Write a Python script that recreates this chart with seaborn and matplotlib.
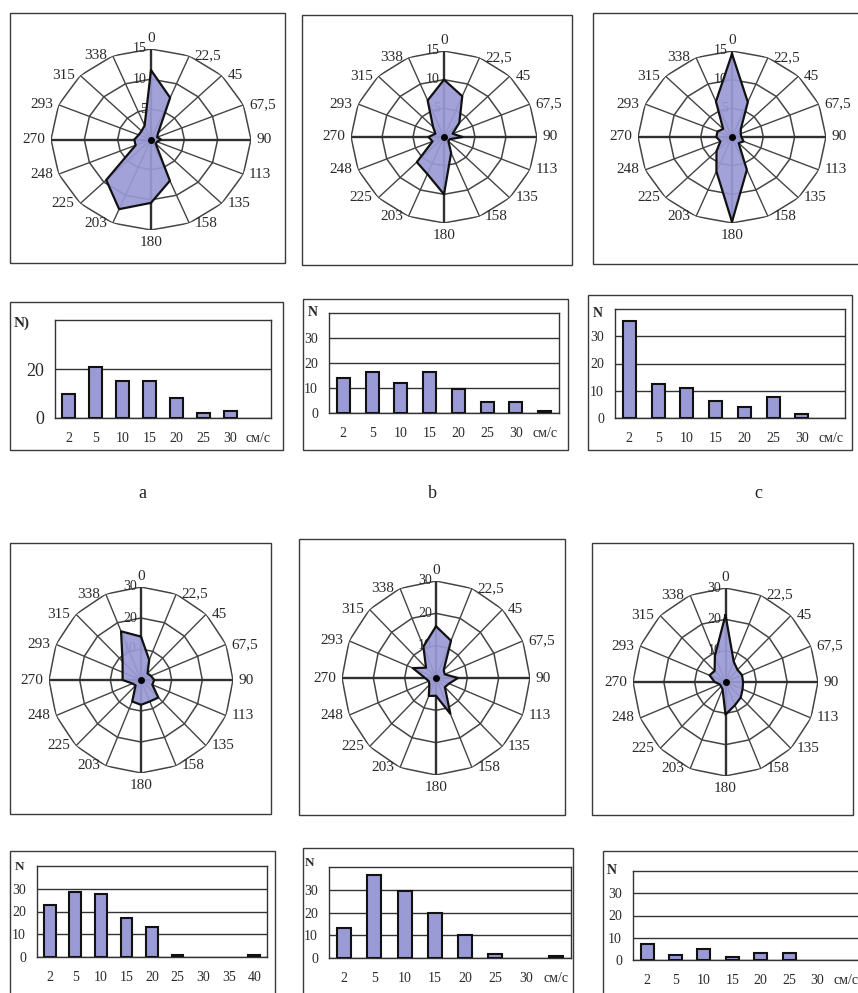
import numpy as np
import matplotlib
matplotlib.use("Agg")
import matplotlib.pyplot as plt
from matplotlib.patches import Rectangle
import seaborn as sns

sns.set_style("white")
plt.rcParams["font.family"] = ["Liberation Serif", "DejaVu Serif"]

# ---------------------------------------------------------------- data
direction_labels = ["0", "22,5", "45", "67,5", "90", "113", "135", "158",
                    "180", "203", "225", "248", "270", "293", "315", "338"]

# current direction roses (frequency, %)
rose_a = [11.5, 7.5, 1.5, 1.0, 1.5, 1.0, 1.0, 7.4, 10.5, 12.5, 9.5, 2.5, 2.5, 2.0, 2.0, 2.5]
rose_b = [10.0, 7.7, 3.5, 1.5, 3.0, 1.0, 1.0, 3.0, 10.0, 7.0, 6.2, 2.0, 2.5, 1.5, 2.5, 6.9]
rose_c = [14.5, 6.6, 2.0, 1.5, 1.5, 2.0, 1.5, 6.2, 14.8, 6.5, 3.5, 2.0, 2.5, 2.5, 2.0, 6.7]
rose_d = [14.0, 7.0, 3.0, 3.5, 4.3, 4.0, 8.0, 7.5, 8.0, 7.5, 2.5, 3.0, 6.0, 6.5, 8.5, 17.0]
rose_e = [16.0, 12.5, 3.5, 3.0, 7.0, 4.5, 4.0, 12.0, 5.5, 6.0, 3.0, 2.5, 3.5, 8.0, 4.5, 10.5]
rose_f = [21.4, 7.0, 5.5, 5.8, 5.7, 6.0, 7.0, 8.0, 10.4, 2.5, 2.0, 2.0, 3.5, 5.6, 5.0, 9.0]

# current speed histograms
speed_labels = ["2", "5", "10", "15", "20", "25", "30", "см/с"]
speed_labels_d = ["2", "5", "10", "15", "20", "25", "30", "35", "40"]
counts_a = [10, 21, 15, 15, 8, 2, 3, 0]
counts_b = [14, 16.5, 12, 16.5, 9.5, 4.5, 4.5, 0.7]
counts_c = [35.7, 12.4, 11.1, 6.1, 3.9, 7.6, 1.3, 0]
counts_d = [23, 28.5, 27.5, 17, 13, 0.7, 0, 0, 0.7]
counts_e = [13, 36.5, 29.5, 20, 10, 1.6, 0, 0.7]
counts_f = [7.3, 2.2, 5.1, 1.5, 3.2, 3.2, 0, 0]

panel_letters = ["a", "b", "c"]

# ---------------------------------------------------------------- figure
W, H = 858, 993
fig = plt.figure(figsize=(W / 100, H / 100), dpi=100)
fig.patch.set_facecolor("white")

FILL = "#9a9ad6"
EDGE = "#111111"
GRID = "#454545"
TXT = "#2a2a2a"


def px_rect(left, top, right, bottom):
    return [left / W, 1 - bottom / H, (right - left) / W, (bottom - top) / H]


def frame(left, top, right, bottom):
    l, b, w, h = px_rect(left, top, right, bottom)
    fig.add_artist(Rectangle((l, b), w, h, transform=fig.transFigure,
                             fill=False, edgecolor="#3a3a3a", lw=1.0, zorder=0))


def draw_rose(cx, cy, rx, ry, values, rmax, step):
    ax = fig.add_axes(px_rect(cx - rx, cy - ry, cx + rx, cy + ry), projection="polar")
    ax.set_aspect("auto")
    ax.set_theta_zero_location("N")
    ax.set_theta_direction(-1)
    ax.set_ylim(0, rmax)
    ax.grid(False)
    ax.set_xticks([])
    ax.set_yticks([])
    ax.spines["polar"].set_visible(False)
    ax.patch.set_alpha(0)

    theta = np.deg2rad(np.arange(16) * 22.5)
    closed = np.append(theta, theta[0])
    for r in np.arange(step, rmax + step / 2, step):
        ax.plot(closed, np.full(17, r), color=GRID, lw=1.1, zorder=1)
    for i, t in enumerate(theta):
        ax.plot([t, t], [0, rmax], color="#303030" if i % 4 == 0 else GRID,
                lw=1.7 if i % 4 == 0 else 1.0, zorder=1)

    for r in np.arange(step, rmax + step / 2, step):
        ax.annotate(f"{r:g}", xy=(0, r), xytext=(-3, 0), textcoords="offset points",
                    ha="right", va="center", fontsize=10, color=TXT, zorder=2)

    vals = np.append(values, values[0])
    ax.fill(closed, vals, facecolor=FILL, edgecolor="none", alpha=0.92, zorder=3)
    ax.plot(closed, vals, color=EDGE, lw=1.6, zorder=4)
    ax.plot([0], [0], "o", color="black", ms=4, zorder=5)

    for deg, lab in zip(np.arange(16) * 22.5, direction_labels):
        t = np.deg2rad(deg)
        if deg == 0:
            ha, va, off = "center", "bottom", (0, 3)
        elif deg == 180:
            ha, va, off = "center", "top", (0, -4)
        elif deg < 180:
            ha, va, off = "left", "center", (4, 0)
        else:
            ha, va, off = "right", "center", (-4, 0)
        ax.annotate(lab, xy=(t, rmax), xytext=off, textcoords="offset points",
                    ha=ha, va=va, fontsize=11, color=TXT, annotation_clip=False)
    return ax


def draw_counts(left, top, right, bottom, labels, counts, yticks, ytick_size=10):
    ax = fig.add_axes(px_rect(left, top, right, bottom))
    sns.barplot(x=labels, y=counts, ax=ax, color=FILL, saturation=1,
                edgecolor=EDGE, linewidth=1.5, width=0.46, zorder=3)
    # empty speed classes get no bar outline
    for patch, v in zip(ax.patches, counts):
        if v == 0:
            patch.set_visible(False)
    ax.set_xlim(-0.5, len(labels) - 0.5)
    ax.set_ylim(0, 40)
    ax.set_yticks(yticks)
    ax.yaxis.grid(True, color="#333333", lw=1.0, zorder=0)
    ax.xaxis.grid(False)
    ax.set_axisbelow(True)
    ax.tick_params(axis="x", length=0, labelsize=10, pad=10, colors=TXT)
    ax.tick_params(axis="y", length=0, labelsize=ytick_size, pad=8, colors=TXT)
    for s in ax.spines.values():
        s.set_visible(True)
        s.set_color("#333333")
        s.set_linewidth(1.0)
    ax.set_xlabel("")
    ax.set_ylabel("")
    return ax


# ---------------------------------------------------------------- roses
frame(10, 13, 285, 263)
frame(302, 15, 572, 265)
frame(593, 13, 870, 264)
frame(10, 543, 271, 814)
frame(299, 539, 565, 815)
frame(592, 543, 853, 815)

draw_rose(151, 139.5, 100, 90.5, rose_a, 15, 5)
draw_rose(444, 137, 93, 86, rose_b, 15, 5)
draw_rose(732, 137, 94, 86, rose_c, 15, 5)
draw_rose(141, 680, 92, 93, rose_d, 30, 10)
draw_rose(436, 678, 94, 97, rose_e, 30, 10)
draw_rose(725.5, 682, 92.5, 94, rose_f, 30, 10)

# ---------------------------------------------------------------- histograms
frame(10, 302, 283, 450)
frame(303, 299, 568, 450)
frame(588, 295, 852, 450)
frame(10, 851, 275, 1000)
frame(303, 848, 573, 1000)
frame(603, 851, 870, 1000)

draw_counts(55, 320, 271, 418, speed_labels, counts_a, [0, 20], ytick_size=13)
draw_counts(329, 313, 559, 413, speed_labels, counts_b, [0, 10, 20, 30])
draw_counts(615, 309, 845, 418, speed_labels, counts_c, [0, 10, 20, 30])
draw_counts(37, 866, 267, 957, speed_labels_d, counts_d, [0, 10, 20, 30])
draw_counts(329, 867, 571, 958, speed_labels, counts_e, [0, 10, 20, 30])
draw_counts(633, 871, 860, 960, speed_labels, counts_f, [0, 10, 20, 30])

# axis captions "N"
for x, y, s, fs in [(14, 323, "N)", 11), (308, 312, "N", 10), (593, 313, "N", 10),
                    (15, 867, "N", 9.5), (305, 863, "N", 9.5), (607, 870, "N", 10)]:
    fig.text(x / W, 1 - y / H, s, ha="left", va="center", fontsize=fs,
             color=TXT, fontweight="bold")

# panel letters
for x, s in zip([142, 432, 758], panel_letters):
    fig.text(x / W, 1 - 493 / H, s, ha="center", va="center", fontsize=13, color="#222222")

fig.savefig("out.png", dpi=100, facecolor="white")
